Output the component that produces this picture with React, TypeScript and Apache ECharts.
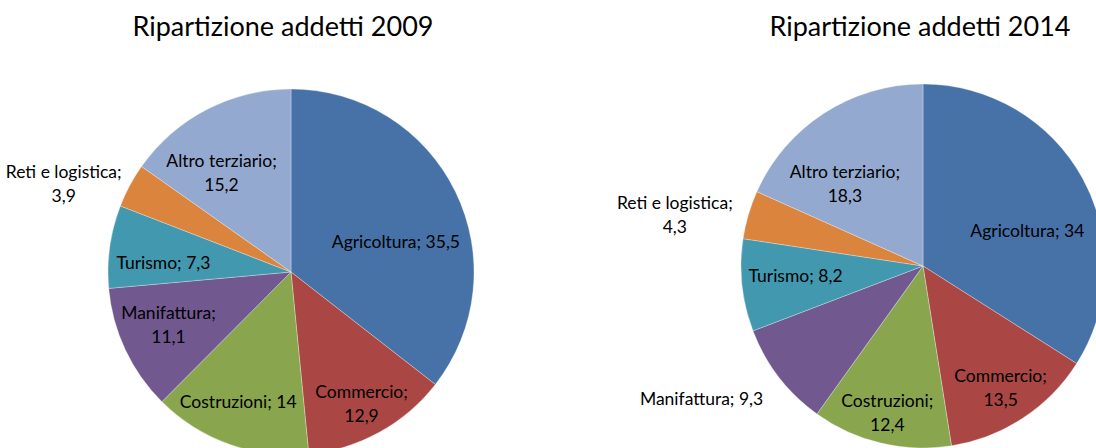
import React, { useEffect, useRef } from "react";
import * as echarts from "echarts";

const categories = [
  "Agricoltura",
  "Commercio",
  "Costruzioni",
  "Manifattura",
  "Turismo",
  "Reti e logistica",
  "Altro terziario",
];
const values2009 = [35.5, 12.9, 14, 11.1, 7.3, 3.9, 15.2];
const values2014 = [34, 13.5, 12.4, 9.3, 8.2, 4.3, 18.3];
const titles = ["Ripartizione addetti 2009", "Ripartizione addetti 2014"];

const colors = ["#4672A8", "#AA4643", "#89A54E", "#71588F", "#4198AF", "#DB843D", "#93A9CF"];

// label layout (styles, not data)
const twoLine = [
  new Set(["Commercio", "Manifattura", "Reti e logistica", "Altro terziario"]),
  new Set(["Commercio", "Costruzioni", "Reti e logistica", "Altro terziario"]),
];
const labelOffsets = [
  [[20, 11], [25, 49], [-21, 40], [-37, 12], [-34, 4], [-144, -44], [-26, -16]],
  [[22, 10], [26, 43], [-14, 55], [-147, 75], [-34, -1], [-158, -25], [-27, -4]],
];

const FONT = "Lato, 'Noto Sans', sans-serif";

function fmt(v: number) {
  return String(v).replace(".", ",");
}

export default function App() {
  const ref = useRef<HTMLDivElement>(null);
  useEffect(() => {
    if (!ref.current) return;
    const chart = echarts.init(ref.current, undefined, { renderer: "svg" });
    const mkSeries = (vals: number[], idx: number, center: number[], radius: number) => ({
      type: "pie",
      center,
      radius,
      startAngle: 90,
      clockwise: true,
      avoidLabelOverlap: false,
      silent: true,
      itemStyle: { borderColor: "rgba(255,255,255,0.5)", borderWidth: 0.6 },
      label: {
        show: true,
        position: "inside",
        color: "#000",
        fontFamily: FONT,
        fontSize: 17.5,
        lineHeight: 24,
        align: "center",
        formatter: (p: any) =>
          twoLine[idx].has(p.name) ? `${p.name};\n${fmt(p.value)}` : `${p.name}; ${fmt(p.value)}`,
      },
      labelLine: { show: false },
      labelLayout: (p: any) => ({
        dx: labelOffsets[idx][p.dataIndex][0],
        dy: labelOffsets[idx][p.dataIndex][1],
      }),
      data: categories.map((c, i) => ({ name: c, value: vals[i], itemStyle: { color: colors[i] } })),
    });
    const titleStyle = {
      fontFamily: FONT,
      fontSize: 27,
      fill: "#000",
      align: "center",
      verticalAlign: "middle",
    };
    chart.setOption({
      animation: false,
      backgroundColor: "#ffffff",
      graphic: [
        { type: "text", x: 283, y: 25, style: { ...titleStyle, text: titles[0] } },
        { type: "text", x: 920, y: 25, style: { ...titleStyle, text: titles[1] } },
      ],
      series: [
        mkSeries(values2009, 0, [291, 272], 183),
        mkSeries(values2014, 1, [923, 266], 182),
      ],
    });
    return () => chart.dispose();
  }, []);
  return (
    <div
      ref={ref}
      style={{ position: "fixed", left: 0, top: 0, width: 1096, height: 448, background: "#fff" }}
    />
  );
}
